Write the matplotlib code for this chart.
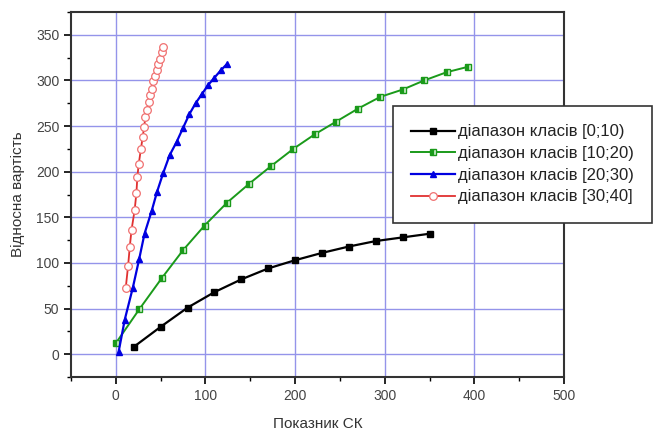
import numpy as np
import matplotlib.pyplot as plt
from matplotlib.ticker import MultipleLocator

plt.rcParams['font.family'] = ['Liberation Sans', 'DejaVu Sans']

# діапазон класів [0;10)
x0 = [20, 50, 80, 110, 140, 170, 200, 230, 260, 290, 320, 350]
y0 = [8, 30, 51, 68, 82, 94, 103, 111, 118, 124, 128, 132]

# діапазон класів [10;20)
x1 = [0, 26, 51, 75, 99, 124, 149, 173, 198, 222, 246, 270, 295, 320, 344, 369, 393]
y1 = [12, 49, 83, 114, 141, 166, 187, 206, 225, 241, 255, 269, 282, 290, 300, 309, 315]

# діапазон класів [20;30)
x2 = [3, 10, 19, 26, 32, 40, 46, 53, 60, 68, 75, 82, 89, 96, 103, 110, 117, 124]
y2 = [2, 38, 73, 104, 132, 157, 178, 199, 218, 233, 248, 263, 275, 285, 295, 303, 311, 318]

# діапазон класів [30;40]
x3 = [11, 13.7, 15.6, 17.5, 21, 23, 24, 25.5, 28, 30, 31.6, 33, 35, 36.5, 38, 40,
      41.6, 43.5, 45.4, 47.2, 49, 51, 52.8]
y3 = [72, 97, 118, 136, 158, 177, 194, 208, 225, 238, 249, 260, 268, 276, 284, 291,
      299, 305, 311, 318, 324, 331, 337]

labels = ['діапазон класів [0;10)', 'діапазон класів [10;20)',
          'діапазон класів [20;30)', 'діапазон класів [30;40]']

fig = plt.figure(figsize=(6.55, 4.32), dpi=100)
ax = fig.add_axes([0.1084, 0.1273, 0.7527, 0.8449])

ax.plot(x0, y0, '-s', color='black', lw=1.6, ms=5, label=labels[0], zorder=3)
ax.plot(x1, y1, '-s', color='#1a9a1a', lw=1.4, ms=4.5, mfc='#1a9a1a', mec='#1a9a1a',
        fillstyle='left', markerfacecoloralt='#d8f0d8', label=labels[1], zorder=3)
ax.plot(x2, y2, '-^', color='#0000e0', lw=1.6, ms=5, label=labels[2], zorder=3)
ax.plot(x3, y3, '-o', color='#e03030', lw=1.3, ms=5.5, mfc='white', mec='#f07070',
        mew=0.9, label=labels[3], zorder=3)

ax.set_xlim(-50, 500)
ax.set_ylim(-25, 375)
ax.xaxis.set_major_locator(MultipleLocator(100))
ax.xaxis.set_minor_locator(MultipleLocator(50))
ax.yaxis.set_major_locator(MultipleLocator(50))
ax.yaxis.set_minor_locator(MultipleLocator(25))
ax.set_yticks([0, 50, 100, 150, 200, 250, 300, 350])

ax.grid(True, which='major', color='#9494ea', lw=1.0)
ax.set_axisbelow(True)
ax.tick_params(which='major', direction='out', length=5, width=1.2,
               labelsize=10, labelcolor='#444444', top=False, right=False)
ax.tick_params(which='minor', direction='out', length=3, width=1.0,
               top=False, right=False)
for s in ax.spines.values():
    s.set_linewidth(1.5)
    s.set_color('#333333')

ax.set_xlabel('Показник СК', fontsize=11, color='#333333', labelpad=10)
ax.set_ylabel('Відносна вартість', fontsize=11, color='#333333', labelpad=8)

leg = fig.legend(loc='upper left', bbox_to_anchor=(0.600, 0.7546),
                 fontsize=12, frameon=True, fancybox=False, handlelength=2.6,
                 handletextpad=0.2, labelspacing=0.4, borderpad=1.1,
                 borderaxespad=0, labelcolor='#222222')
leg.get_frame().set_edgecolor('#333333')
leg.get_frame().set_linewidth(1.2)
leg.get_frame().set_alpha(1)

fig.savefig('out.png', dpi=100)
